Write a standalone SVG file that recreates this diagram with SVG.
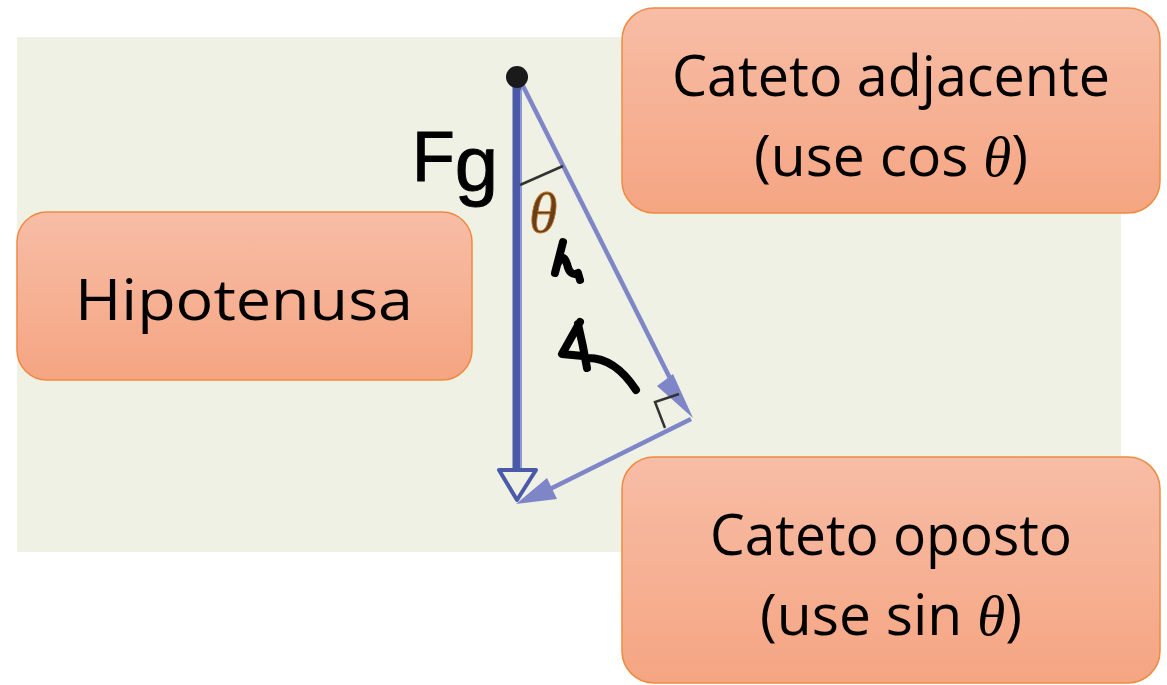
<svg xmlns="http://www.w3.org/2000/svg" width="1167" height="685" viewBox="0 0 1167 685">
<defs>
<linearGradient id="boxg" x1="0" y1="0" x2="0" y2="1">
<stop offset="0" stop-color="#F7BDA6"/>
<stop offset="1" stop-color="#F5A582"/>
</linearGradient>
<style>
.box{fill:url(#boxg);stroke:#F08A40;stroke-width:1.5}
.lbl{font-family:"Open Sans","Liberation Sans",sans-serif;font-size:57px;fill:#000;text-anchor:middle}
.th{font-family:"Liberation Serif",serif;font-style:italic}
.ink{fill:none;stroke:#000;stroke-width:8;stroke-linecap:round;stroke-linejoin:round}
.light{stroke:#7F86C8;stroke-width:4.5;fill:none}
</style>
</defs>
<rect x="0" y="0" width="1167" height="685" fill="#FFFFFF"/>
<rect id="background" x="17" y="37" width="1104" height="515" fill="#EEF1E4"/>

<g id="connectors">
<line x1="521" y1="82" x2="685" y2="408" class="light"/>
<path d="M673,374 L693,418 L657,386 z" fill="#7F86C8"/>
<line x1="691" y1="419" x2="540" y2="494" class="light"/>
<path d="M516,504 L547,478 L557,499 z" fill="#7F86C8"/>
<line x1="517" y1="77" x2="517" y2="470" stroke="#4A5AA8" stroke-width="9"/>
<line x1="521" y1="90" x2="521" y2="468" stroke="#8E97CF" stroke-width="2"/>
<path d="M499,470 L536,470 L517,500 z" fill="none" stroke="#4A5AA8" stroke-width="4" stroke-linejoin="round"/>
<circle cx="517" cy="77" r="11" fill="#1A1A1A"/>
<line x1="520" y1="185" x2="563" y2="166" stroke="#333" stroke-width="2.5"/>
<polyline points="679,394 655,402 665,428" fill="none" stroke="#333" stroke-width="2.5"/>
<text x="529" y="232" class="th" font-size="58" fill="#6A3F18" stroke="#C07A30" stroke-width="0.8">θ</text>
</g>

<g id="ink">
<text x="412" y="181" font-family="Liberation Sans, sans-serif" fill="#000" stroke="#000" stroke-width="1"><tspan font-size="70">F</tspan><tspan font-size="78" dy="10">g</tspan></text>
<path class="ink" d="M563,242 L555,273 M558,263 Q563,252 567,264 Q570,277 578,273 L580,280"/>
<path class="ink" d="M580,322 L562,354 L583,356 M578,324 Q583,345 587,368 M585,358 Q614,356 636,390"/>
</g>

<g id="node-adjacente">
<rect class="box" x="622" y="8" width="538" height="205" rx="32"/>
<text class="lbl" x="891" y="96" textLength="438" lengthAdjust="spacingAndGlyphs">Cateto adjacente</text>
<text class="lbl" x="891" y="176">(use cos <tspan class="th">θ</tspan>)</text>
</g>

<g id="node-hipotenusa">
<rect class="box" x="17" y="212" width="455" height="168" rx="30"/>
<text class="lbl" x="244" y="320" font-size="60" textLength="338" lengthAdjust="spacingAndGlyphs">Hipotenusa</text>
</g>

<g id="node-oposto">
<rect class="box" x="622" y="457" width="538" height="226" rx="32"/>
<text class="lbl" x="891" y="555" textLength="362" lengthAdjust="spacingAndGlyphs">Cateto oposto</text>
<text class="lbl" x="891" y="635">(use sin <tspan class="th">θ</tspan>)</text>
</g>
</svg>
